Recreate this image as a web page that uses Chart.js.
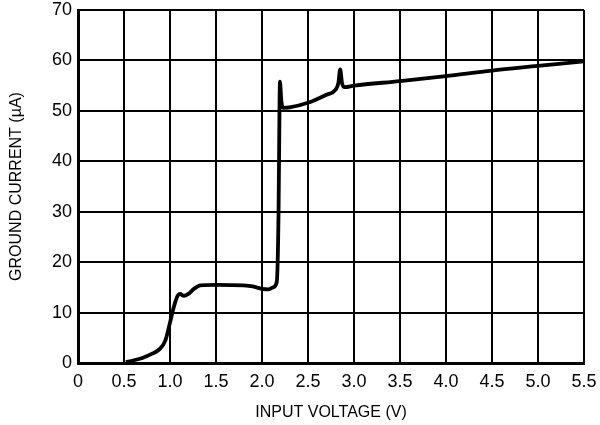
<!DOCTYPE html>
<html>
<head>
<meta charset="utf-8">
<script src="https://cdn.jsdelivr.net/npm/chart.js@4/dist/chart.umd.min.js"></script>
<style>
  html, body { margin: 0; padding: 0; background: #fff; }
  #wrap { width: 600px; height: 425px; }
</style>
</head>
<body>
<div id="wrap"><canvas id="gcChart" width="600" height="425"></canvas></div>
<script>
// ground current vs input voltage
const voltage = [0.52, 0.6, 0.7, 0.8, 0.89, 0.95, 1.0, 1.04, 1.08, 1.11, 1.15, 1.2, 1.26, 1.33, 1.5, 1.8, 1.9, 2.0, 2.07, 2.12, 2.16, 2.18, 2.19, 2.195, 2.21, 2.23, 2.3, 2.5, 2.7, 2.8, 2.83, 2.85, 2.87, 2.9, 3.0, 3.5, 4.0, 4.5, 5.0, 5.5];
const current = [0.2, 0.5, 1.0, 1.8, 2.8, 4.5, 8.0, 11.0, 13.2, 13.7, 13.3, 13.7, 14.7, 15.4, 15.5, 15.4, 15.2, 14.7, 14.6, 15.0, 16.0, 30.0, 50.0, 55.8, 52.0, 50.6, 50.7, 51.6, 53.2, 54.2, 55.5, 58.2, 55.5, 54.7, 55.0, 55.9, 56.9, 58.0, 58.9, 59.8];

const xTicks = [0, 0.5, 1.0, 1.5, 2.0, 2.5, 3.0, 3.5, 4.0, 4.5, 5.0, 5.5];
const yTicks = [0, 10, 20, 30, 40, 50, 60, 70];

const font = "'Liberation Sans', Arial, Helvetica, sans-serif";

const points = voltage.map((v, i) => ({ x: v, y: current[i] }));

const ctx = document.getElementById("gcChart").getContext("2d");
const chart = new Chart(ctx, {
  type: "line",
  data: {
    datasets: [{
      label: "Ground current",
      data: points,
      borderColor: "#000",
      borderWidth: 3.8,
      pointRadius: 0,
      fill: false,
      cubicInterpolationMode: "monotone"
    }]
  },
  options: {
    responsive: false,
    animation: false,
    layout: { padding: { left: 2, right: 16, top: 10, bottom: 0 } },
    plugins: { legend: { display: false }, tooltip: { enabled: false } },
    scales: {
      x: {
        type: "linear",
        min: xTicks[0],
        max: xTicks[xTicks.length - 1],
        afterBuildTicks: s => { s.ticks = xTicks.map(v => ({ value: v })); },
        afterFit: s => { s.height = 62; s.paddingLeft = 0; s.paddingRight = 0; },
        grid: { color: "#000", lineWidth: 2, drawTicks: false },
        border: { color: "#000", width: 3 },
        ticks: {
          color: "#000",
          padding: 8,
          font: { family: font, size: 18 },
          callback: v => (v === 0 ? "0" : v.toFixed(1))
        },
        title: {
          display: true,
          text: "INPUT VOLTAGE (V)",
          color: "#000",
          font: { family: font, size: 16 },
          padding: { top: 0, bottom: 3 }
        }
      },
      y: {
        min: yTicks[0],
        max: yTicks[yTicks.length - 1],
        afterBuildTicks: s => { s.ticks = yTicks.map(v => ({ value: v })); },
        afterFit: s => { s.width = 76; s.paddingTop = 0; s.paddingBottom = 0; },
        grid: { color: "#000", lineWidth: 2, drawTicks: false },
        border: { color: "#000", width: 3 },
        ticks: {
          color: "#000",
          padding: 6,
          font: { family: font, size: 18 }
        },
        title: {
          display: true,
          text: "GROUND CURRENT (µA)",
          color: "#000",
          font: { family: font, size: 16 },
          padding: { top: 5, bottom: 0 }
        }
      }
    }
  }
});
</script>
</body>
</html>
